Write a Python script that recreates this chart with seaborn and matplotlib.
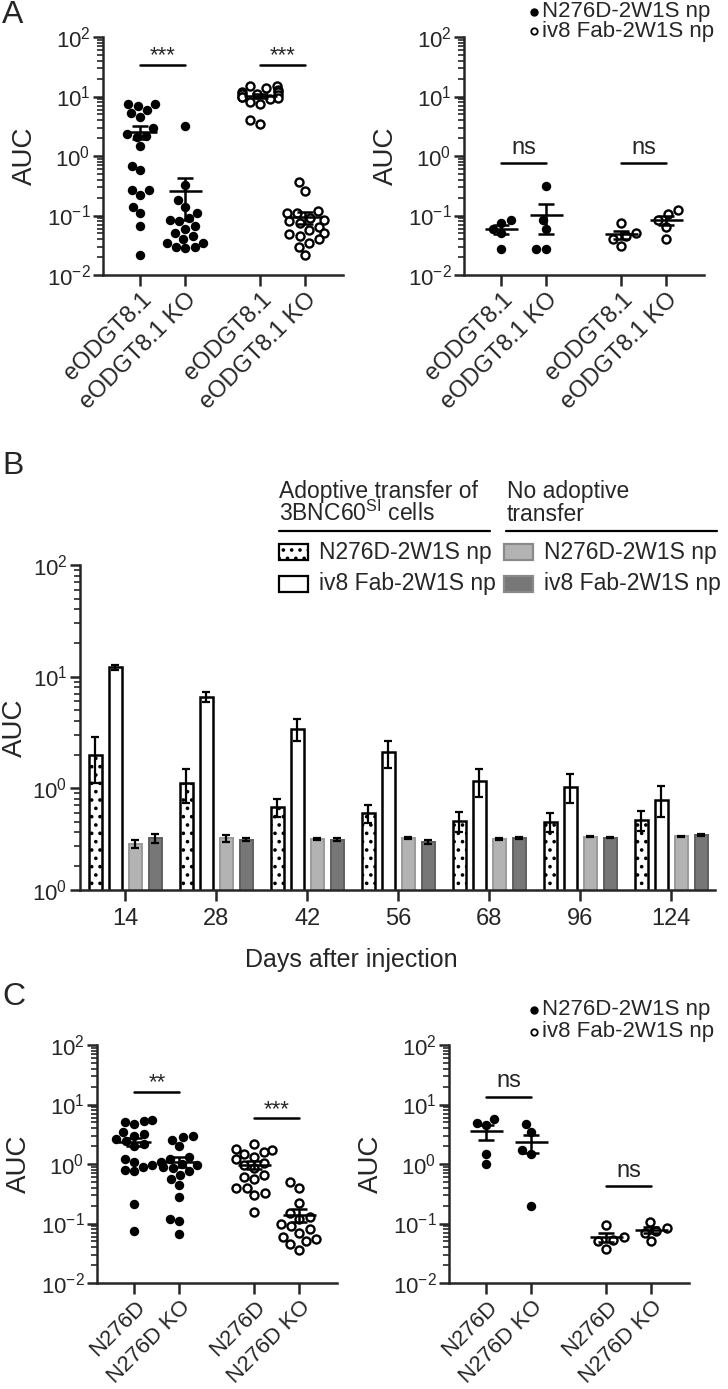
import warnings
import numpy as np
import pandas as pd
import seaborn as sns
import matplotlib.pyplot as plt
from matplotlib.lines import Line2D
from matplotlib.patches import Rectangle
from matplotlib.ticker import LogLocator, NullFormatter

warnings.filterwarnings("ignore", category=UserWarning)

sns.set_theme(style="ticks")
plt.rcParams["font.family"] = ["Liberation Sans", "DejaVu Sans"]
plt.rcParams["mathtext.fontset"] = "custom"
plt.rcParams["mathtext.rm"] = "Liberation Sans"
plt.rcParams["mathtext.it"] = "Liberation Sans:italic"
plt.rcParams["mathtext.bf"] = "Liberation Sans:bold"
plt.rcParams["hatch.linewidth"] = 1.4

W, H = 728, 1389

# ---- panel A, AUC per mouse ----
a_n276d = [7.4, 7.0, 7.4, 6.0, 5.2, 4.6, 2.9, 2.3, 2.2, 2.1, 1.5, 0.69, 0.58,
           0.27, 0.27, 0.22, 0.14, 0.11, 0.066, 0.022]
a_n276d_ko = [3.2, 0.33, 0.18, 0.14, 0.11, 0.09, 0.085, 0.08, 0.066, 0.06, 0.05,
              0.045, 0.04, 0.035, 0.035, 0.03, 0.03, 0.028]
a_iv8 = [15, 14, 15, 13, 12, 12, 11, 11, 10.5, 10, 10, 9.5, 9, 8, 7.5, 4.0, 3.5]
a_iv8_ko = [0.36, 0.26, 0.12, 0.11, 0.11, 0.09, 0.085, 0.08, 0.075, 0.065, 0.058,
            0.05, 0.048, 0.045, 0.04, 0.035, 0.03, 0.022]
# no adoptive transfer
a2_n276d = [0.085, 0.075, 0.06, 0.05, 0.027]
a2_n276d_ko = [0.31, 0.085, 0.06, 0.027, 0.027]
a2_iv8 = [0.075, 0.05, 0.045, 0.04, 0.031]
a2_iv8_ko = [0.125, 0.105, 0.085, 0.065, 0.04]
a_labels = ["eODGT8.1", "eODGT8.1 KO", "eODGT8.1", "eODGT8.1 KO"]

# ---- panel B, mean AUC +- SEM over time ----
days = ["14", "28", "42", "56", "68", "96", "124"]
b_groups = ["Transfer N276D-2W1S np", "Transfer iv8 Fab-2W1S np",
            "No transfer N276D-2W1S np", "No transfer iv8 Fab-2W1S np"]
b_tr_n276d = [2.0, 1.11, 0.67, 0.60, 0.51, 0.50, 0.52]
b_tr_n276d_sem = [0.9, 0.37, 0.125, 0.11, 0.105, 0.095, 0.105]
b_tr_iv8 = [12.1, 6.6, 3.39, 2.09, 1.16, 1.03, 0.79]
b_tr_iv8_sem = [0.65, 0.65, 0.75, 0.58, 0.32, 0.30, 0.245]
b_no_n276d = [0.314, 0.355, 0.35, 0.355, 0.35, 0.365, 0.37]
b_no_n276d_sem = [0.025, 0.025, 0.01, 0.008, 0.005, 0.004, 0.005]
b_no_iv8 = [0.355, 0.345, 0.345, 0.33, 0.355, 0.36, 0.38]
b_no_iv8_sem = [0.03, 0.012, 0.01, 0.012, 0.006, 0.005, 0.008]

# ---- panel C ----
c_n276d = [5.5, 5.0, 5.3, 4.7, 3.4, 3.2, 3.0, 2.6, 2.4, 2.2, 2.0, 1.2, 1.1, 0.95,
           0.9, 0.8, 0.75, 0.21, 0.074]
c_n276d_ko = [3.0, 2.8, 2.5, 2.0, 1.3, 1.2, 1.1, 1.0, 0.95, 0.9, 0.85, 0.75, 0.65,
              0.55, 0.45, 0.28, 0.12, 0.11, 0.067]
c_iv8 = [2.15, 1.8, 1.7, 1.6, 1.5, 1.3, 1.2, 1.05, 0.95, 0.85, 0.65, 0.6, 0.55,
         0.4, 0.4, 0.32, 0.3, 0.155]
c_iv8_ko = [0.5, 0.4, 0.22, 0.15, 0.13, 0.12, 0.1, 0.09, 0.08, 0.07, 0.06, 0.055,
            0.05, 0.045, 0.036]
c2_n276d = [5.8, 4.9, 4.5, 1.45, 1.0]
c2_n276d_ko = [4.7, 3.5, 1.7, 1.5, 0.2]
c2_iv8 = [0.095, 0.06, 0.052, 0.05, 0.038]
c2_iv8_ko = [0.105, 0.085, 0.075, 0.07, 0.05]
c_labels = ["N276D", "N276D KO", "N276D", "N276D KO"]

pos = [0, 1, 2.667, 3.667]
LW = 1.8

fig = plt.figure(figsize=(W / 100, H / 100), dpi=100)


def fx(x):
    return x / W


def fy(y):
    return 1 - y / H


def add_ax(x0, y_top, x1, y_bot):
    return fig.add_axes([fx(x0), fy(y_bot), (x1 - x0) / W, (y_bot - y_top) / H])


def style_ax(ax):
    sns.despine(ax=ax)
    for s in ["left", "bottom"]:
        ax.spines[s].set_linewidth(LW)
    ax.tick_params(axis="y", which="major", length=7, width=LW, labelsize=16, pad=2)
    ax.tick_params(axis="y", which="minor", length=4, width=1.2)
    ax.tick_params(axis="x", which="major", length=8, width=LW, pad=2)
    ax.tick_params(axis="x", which="minor", length=0)


def dot_panel(ax, groups, labels, sigs, xfs):
    fdf = pd.DataFrame({"x": np.repeat(pos[:2], [len(g) for g in groups[:2]]),
                        "auc": np.concatenate(groups[:2])})
    odf = pd.DataFrame({"x": np.repeat(pos[2:], [len(g) for g in groups[2:]]),
                        "auc": np.concatenate(groups[2:])})
    ax.set_yscale("log")
    sns.swarmplot(data=fdf, x="x", y="auc", native_scale=True, orient="x",
                  color="black", size=6.8, ax=ax)
    sns.swarmplot(data=odf, x="x", y="auc", native_scale=True, orient="x",
                  color="white", edgecolor="black", linewidth=1.7, size=5.8, ax=ax)
    for p, g in zip(pos, groups):
        g = np.asarray(g)
        m = g.mean()
        se = g.std(ddof=1) / np.sqrt(len(g))
        ax.hlines(m, p - 0.36, p + 0.36, color="black", lw=LW, zorder=5)
        ax.errorbar(p, m, yerr=se, color="black", capsize=6, elinewidth=LW,
                    capthick=LW, zorder=5)
    for (i0, i1, yv, txt, off) in sigs:
        ax.plot([pos[i0], pos[i1]], [yv, yv], color="black", lw=LW)
        ax.annotate(txt, xy=((pos[i0] + pos[i1]) / 2, yv), xytext=(0, off),
                    textcoords="offset points", ha="center", va="bottom",
                    fontsize=17 if txt == "ns" else 16)
    ax.set_ylim(0.01, 100)
    ax.set_xlim(-0.83, 4.5)
    ax.yaxis.set_major_locator(LogLocator(base=10, numticks=10))
    ax.yaxis.set_minor_locator(LogLocator(base=10, subs=np.arange(2, 10), numticks=20))
    ax.yaxis.set_minor_formatter(NullFormatter())
    ax.set_xticks(pos)
    ax.set_xticklabels(labels, rotation=45, ha="right", rotation_mode="anchor",
                       fontsize=xfs)
    ax.set_xlabel("")
    ax.set_ylabel("AUC", fontsize=20, labelpad=6)
    style_ax(ax)


def dot_legend(y1, y2):
    fig.add_artist(Line2D([fx(534)], [fy(y1)], marker="o", color="black",
                          markersize=5, transform=fig.transFigure))
    fig.add_artist(Line2D([fx(534)], [fy(y2)], marker="o", markerfacecolor="white",
                          markeredgecolor="black", markeredgewidth=1.3,
                          markersize=4.6, transform=fig.transFigure))
    fig.text(fx(542), fy(y1), "N276D-2W1S np", fontsize=16, va="center")
    fig.text(fx(542), fy(y2), "iv8 Fab-2W1S np", fontsize=16, va="center")


# ---------------- A ----------------
ax1 = add_ax(103, 37, 343, 275)
dot_panel(ax1, [a_n276d, a_n276d_ko, a_iv8, a_iv8_ko], a_labels,
          [(0, 1, 34, "***", -1), (2, 3, 34, "***", -1)], 17)
ax2 = add_ax(464, 37, 704, 275)
dot_panel(ax2, [a2_n276d, a2_n276d_ko, a2_iv8, a2_iv8_ko], a_labels,
          [(0, 1, 0.77, "ns", 3), (2, 3, 0.77, "ns", 3)], 17)
dot_legend(12, 31)
fig.text(fx(2), fy(15), "A", fontsize=23, va="center")

# ---------------- B ----------------
axb = add_ax(80, 565, 715, 890)
bdf = pd.DataFrame({
    "day": np.tile(days, 4),
    "group": np.repeat(b_groups, len(days)),
    "auc": np.concatenate([b_tr_n276d, b_tr_iv8, b_no_n276d, b_no_iv8]),
})
b_face = ["white", "white", "#b3b3b3", "#777777"]
b_edge = ["black", "black", "#9a9a9a", "#606060"]
axb.set_yscale("log")
sns.barplot(data=bdf, x="day", y="auc", hue="group", order=days, hue_order=b_groups,
            palette=b_face, width=0.88, gap=0.35, errorbar=None, legend=False, ax=axb)
b_sems = [b_tr_n276d_sem, b_tr_iv8_sem, b_no_n276d_sem, b_no_iv8_sem]
b_vals = [b_tr_n276d, b_tr_iv8, b_no_n276d, b_no_iv8]
bar_conts = list(axb.containers)[:4]
for k, cont in enumerate(bar_conts):
    xs = []
    for bar in cont.patches:
        bar.set_edgecolor(b_edge[k])
        bar.set_linewidth(LW if k < 2 else 1.4)
        if k == 0:
            bar.set_hatch("..")
        xs.append(bar.get_x() + bar.get_width() / 2)
    axb.errorbar(xs, b_vals[k], yerr=b_sems[k], fmt="none", ecolor="black",
                 elinewidth=1.6, capsize=3.2, capthick=1.6, zorder=5)
b_bot = 0.122
axb.set_ylim(b_bot, 100)
axb.set_xlim(-0.495, 6.48)
axb.set_yticks([b_bot, 1, 10, 100])
axb.set_yticklabels([r"$\mathdefault{10^{0}}$", r"$\mathdefault{10^{0}}$",
                     r"$\mathdefault{10^{1}}$", r"$\mathdefault{10^{2}}$"])
axb.yaxis.set_minor_locator(LogLocator(base=10, subs=np.arange(2, 10), numticks=20))
axb.yaxis.set_minor_formatter(NullFormatter())
axb.tick_params(axis="x", labelsize=17)
axb.set_xlabel("")
axb.set_ylabel("AUC", fontsize=20, labelpad=3)
style_ax(axb)
axb.tick_params(axis="x", pad=5)
fig.text(fx(351), fy(960), "Days after injection", fontsize=18, ha="center", va="center")
fig.text(fx(2), fy(466), "B", fontsize=23, va="center")

# legend of B
fig.text(fx(279), fy(498), "Adoptive transfer of", fontsize=16.5, va="baseline")
fig.text(fx(279), fy(521), r"3BNC60$^{\mathdefault{SI}}$ cells", fontsize=16.5, va="baseline")
fig.text(fx(507), fy(498), "No adoptive", fontsize=16.5, va="baseline")
fig.text(fx(507), fy(521), "transfer", fontsize=16.5, va="baseline")
fig.add_artist(Line2D([fx(279), fx(490)], [fy(531), fy(531)], color="black", lw=1.6,
                      transform=fig.transFigure))
fig.add_artist(Line2D([fx(506), fx(717)], [fy(531), fy(531)], color="black", lw=1.6,
                      transform=fig.transFigure))
leg_rows = [(279, 552, 0, "N276D-2W1S np"), (279, 584, 1, "iv8 Fab-2W1S np"),
            (504, 552, 2, "N276D-2W1S np"), (504, 584, 3, "iv8 Fab-2W1S np")]
for x0, yc, k, txt in leg_rows:
    r = Rectangle((fx(x0), fy(yc + 8)), 29 / W, 16 / H, transform=fig.transFigure,
                  facecolor=b_face[k], edgecolor=b_edge[k] if k < 2 else "#8a8a8a",
                  lw=1.6, hatch=".." if k == 0 else None)
    fig.add_artist(r)
    fig.text(fx(x0 + 40), fy(yc), txt, fontsize=16.5, va="center")

# ---------------- C ----------------
axc1 = add_ax(97, 1045, 337, 1283)
dot_panel(axc1, [c_n276d, c_n276d_ko, c_iv8, c_iv8_ko], c_labels,
          [(0, 1, 16.5, "**", -1), (2, 3, 5.85, "***", -1)], 16)
axc2 = add_ax(449, 1045, 689, 1283)
dot_panel(axc2, [c2_n276d, c2_n276d_ko, c2_iv8, c2_iv8_ko], c_labels,
          [(0, 1, 13.6, "ns", 3), (2, 3, 0.43, "ns", 3)], 16)
dot_legend(1010, 1032)
fig.text(fx(2), fy(997), "C", fontsize=23, va="center")

fig.savefig("out.png", dpi=100)
